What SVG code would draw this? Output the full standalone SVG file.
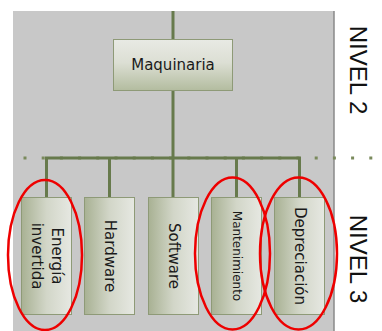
<svg xmlns="http://www.w3.org/2000/svg" width="382" height="331" viewBox="0 0 382 331">
<defs>
<linearGradient id="gv" x1="0" y1="0" x2="0" y2="1">
<stop offset="0" stop-color="#e8eae4"/>
<stop offset="0.45" stop-color="#dcdfd4"/>
<stop offset="1" stop-color="#b3bc9f"/>
</linearGradient>
<linearGradient id="gh" x1="0" y1="0" x2="1" y2="0">
<stop offset="0" stop-color="#a8b193"/>
<stop offset="0.5" stop-color="#d2d6c8"/>
<stop offset="1" stop-color="#e6e8e2"/>
</linearGradient>
<style>
.box{stroke:#8e9a77;stroke-width:1}
.leaf{fill:url(#gh)}
.top{fill:url(#gv)}
.t{font-family:"DejaVu Sans",Verdana,sans-serif;font-size:15px;fill:#1a1a1a;text-anchor:middle}
.lvl{font-family:"Liberation Sans",Arial,sans-serif;font-size:24px;fill:#111;text-anchor:middle}
.conn{stroke:#677a4c;stroke-width:3;fill:none}
.oval{fill:none;stroke:#ee0000;stroke-width:2.5}
</style>
</defs>
<rect x="13" y="11" width="321" height="320" fill="#c8c8c8"/>
<line x1="334" y1="11" x2="334" y2="331" stroke="#8a8a8a" stroke-width="1.5"/>
<line x1="23.5" y1="158" x2="374" y2="158" stroke="#7a8a5c" stroke-width="3" stroke-dasharray="3 15.2"/>
<g id="connectors">
<line class="conn" x1="173" y1="11" x2="173" y2="39"/>
<line class="conn" x1="173" y1="91" x2="173" y2="197"/>
<polyline class="conn" points="46.5,197 46.5,158 299.5,158 299.5,197"/>
<line class="conn" x1="109.5" y1="158" x2="109.5" y2="197"/>
<line class="conn" x1="236.5" y1="158" x2="236.5" y2="197"/>
</g>
<g id="maquinaria">
<rect class="box top" x="113.5" y="39.5" width="119" height="51"/>
<text class="t" x="173" y="70">Maquinaria</text>
</g>
<g id="energia">
<rect class="box leaf" x="21.5" y="197.5" width="50" height="117"/>
<g transform="translate(46.5,256) rotate(90)">
<text class="t" x="0" y="-5">Energía</text>
<text class="t" x="0" y="15">invertida</text>
</g>
</g>
<g id="hardware">
<rect class="box leaf" x="84.5" y="197.5" width="50" height="117"/>
<text class="t" transform="translate(109.5,256) rotate(90)" x="0" y="5">Hardware</text>
</g>
<g id="software">
<rect class="box leaf" x="148.5" y="197.5" width="50" height="117"/>
<text class="t" transform="translate(173.5,256) rotate(90)" x="0" y="5">Software</text>
</g>
<g id="mantenimiento">
<rect class="box leaf" x="211.5" y="197.5" width="50" height="117"/>
<text class="t" style="font-size:12px" transform="translate(236.5,256) rotate(90)" x="0" y="4">Mantenimiento</text>
</g>
<g id="depreciacion">
<rect class="box leaf" x="274.5" y="197.5" width="50" height="117"/>
<text class="t" transform="translate(299.5,256) rotate(90)" x="0" y="5">Depreciación</text>
</g>
<g id="ovals">
<ellipse class="oval" cx="45" cy="255" rx="37" ry="75"/>
<ellipse class="oval" cx="232.5" cy="253.5" rx="37.5" ry="76"/>
<ellipse class="oval" cx="298.5" cy="253.5" rx="38.5" ry="76"/>
</g>
<g id="nivel2">
<text class="lvl" transform="translate(358,70) rotate(90)" x="0" y="8.5">NIVEL 2</text>
</g>
<g id="nivel3">
<text class="lvl" transform="translate(358,259) rotate(90)" x="0" y="8.5">NIVEL 3</text>
</g>
</svg>
